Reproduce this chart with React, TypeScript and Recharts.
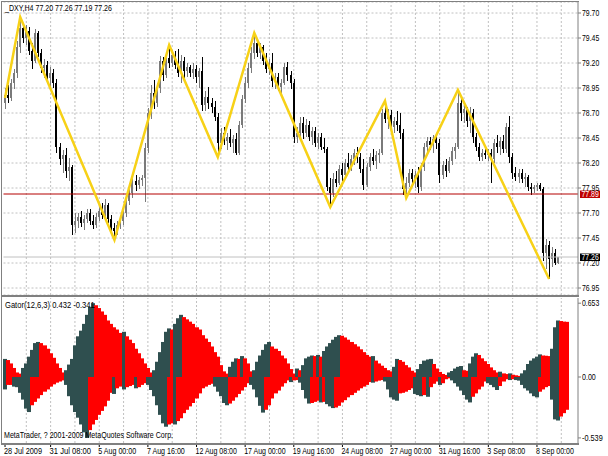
import React from "react";
import {
  ComposedChart,
  Bar,
  Line,
  XAxis,
  YAxis,
  CartesianGrid,
  ReferenceLine,
} from "recharts";

// H4 candles, bar 0 = 28 Jul 2009 20:00
const opens = [
  78.80, 78.88, 78.85, 79.00, 79.10, 79.36, 79.55, 79.45, 79.52, 79.32,
  79.22, 79.50, 79.30, 79.15, 79.18, 79.05, 79.10, 79.00, 78.36, 78.24,
  78.28, 78.12, 78.16, 77.58, 77.62, 77.66, 77.60, 77.64, 77.70, 77.62,
  77.58, 77.66, 77.72, 77.68, 77.78, 77.64, 77.55, 77.52, 77.58, 77.62,
  77.70, 77.82, 77.90, 78.02, 77.98, 78.03, 78.05, 78.35, 78.70, 78.90,
  78.80, 78.95, 79.22, 79.08, 79.25, 79.20, 79.28, 79.18, 79.10, 79.22,
  79.12, 79.16, 79.10, 79.14, 79.06, 79.12, 78.78, 78.86, 78.80, 78.76,
  78.66, 78.40, 78.50, 78.42, 78.46, 78.40, 78.44, 78.30, 78.58, 78.84,
  79.00, 79.15, 79.30, 79.40, 79.30, 79.36, 79.22, 79.14, 79.20, 79.02,
  79.06, 78.96, 79.00, 79.16, 79.08, 79.00, 78.46, 78.50, 78.60, 78.50,
  78.58, 78.46, 78.52, 78.40, 78.46, 78.36, 78.34, 77.96, 77.90, 78.04,
  78.00, 78.14, 78.08, 78.20, 78.16, 78.24, 78.30, 78.26, 78.14, 77.98,
  78.16, 78.26, 78.22, 78.28, 78.30, 78.70, 78.64, 78.68, 78.56, 78.62,
  78.58, 78.50, 77.94, 78.00, 78.10, 78.04, 78.08, 77.96, 78.16, 78.36,
  78.42, 78.38, 78.44, 78.40, 78.08, 78.18, 78.12, 78.22, 78.32, 78.36,
  78.80, 78.70, 78.74, 78.62, 78.70, 78.46, 78.36, 78.26, 78.30, 78.28,
  78.30, 78.24, 78.40, 78.36, 78.42, 78.34, 78.56, 78.26, 78.10, 78.06,
  78.10, 78.04, 78.06, 77.96, 77.94, 77.96, 77.98, 77.94, 77.30, 77.38,
  77.24, 77.30, 77.20,
];
const highs = [
  78.95, 78.98, 79.04, 79.14, 79.42, 79.66, 79.60, 79.58, 79.56, 79.40,
  79.54, 79.52, 79.34, 79.24, 79.22, 79.16, 79.14, 79.04, 78.40, 78.33,
  78.35, 78.25, 78.18, 77.70, 77.70, 77.72, 77.68, 77.74, 77.74, 77.68,
  77.70, 77.76, 77.80, 77.84, 77.80, 77.68, 77.60, 77.62, 77.66, 77.74,
  77.86, 77.95, 78.06, 78.08, 78.06, 78.08, 78.40, 78.75, 78.98, 79.03,
  79.00, 79.27, 79.26, 79.30, 79.38, 79.33, 79.32, 79.34, 79.28, 79.26,
  79.20, 79.18, 79.20, 79.18, 79.15, 79.26, 78.92, 78.96, 78.85, 78.82,
  78.70, 78.55, 78.56, 78.50, 78.54, 78.48, 78.50, 78.62, 78.88, 79.06,
  79.20, 79.36, 79.50, 79.42, 79.40, 79.38, 79.30, 79.24, 79.30, 79.10,
  79.10, 79.04, 79.20, 79.21, 79.12, 79.04, 78.56, 78.66, 78.66, 78.64,
  78.62, 78.56, 78.56, 78.50, 78.50, 78.45, 78.36, 78.05, 78.10, 78.12,
  78.18, 78.20, 78.24, 78.30, 78.28, 78.34, 78.36, 78.30, 78.24, 78.20,
  78.30, 78.34, 78.32, 78.34, 78.74, 78.82, 78.74, 78.73, 78.66, 78.72,
  78.70, 78.54, 78.06, 78.14, 78.14, 78.12, 78.16, 78.20, 78.40, 78.46,
  78.46, 78.48, 78.48, 78.44, 78.22, 78.24, 78.26, 78.36, 78.40, 78.93,
  78.84, 78.78, 78.76, 78.76, 78.74, 78.50, 78.40, 78.34, 78.36, 78.34,
  78.34, 78.44, 78.48, 78.46, 78.48, 78.60, 78.67, 78.30, 78.16, 78.14,
  78.14, 78.10, 78.08, 78.00, 77.98, 78.00, 78.00, 77.96, 77.44, 77.42,
  77.36, 77.34, 77.26,
];
const lows = [
  78.74, 78.80, 78.82, 78.94, 79.05, 79.30, 79.40, 79.38, 79.28, 79.14,
  79.20, 79.26, 79.10, 79.05, 79.00, 78.96, 78.95, 78.30, 78.18, 78.10,
  78.05, 78.02, 77.48, 77.50, 77.55, 77.56, 77.53, 77.60, 77.58, 77.54,
  77.55, 77.62, 77.64, 77.66, 77.60, 77.50, 77.43, 77.48, 77.54, 77.58,
  77.66, 77.78, 77.85, 77.92, 77.94, 77.97, 77.81, 78.30, 78.64, 78.74,
  78.76, 78.90, 79.02, 79.05, 79.15, 79.16, 79.14, 79.06, 79.00, 79.05,
  79.06, 79.06, 79.04, 79.00, 78.95, 78.72, 78.72, 78.74, 78.70, 78.62,
  78.26, 78.34, 78.38, 78.33, 78.36, 78.30, 78.28, 78.28, 78.55, 78.80,
  78.95, 79.10, 79.24, 79.26, 79.24, 79.18, 79.10, 79.08, 78.96, 78.94,
  78.92, 78.90, 78.98, 79.02, 78.94, 78.40, 78.40, 78.46, 78.44, 78.46,
  78.42, 78.38, 78.36, 78.34, 78.33, 78.30, 77.92, 77.76, 77.86, 77.96,
  77.98, 78.02, 78.04, 78.10, 78.12, 78.18, 78.20, 78.10, 77.93, 77.96,
  78.12, 78.18, 78.14, 78.20, 78.28, 78.60, 78.54, 78.50, 78.50, 78.52,
  78.44, 77.88, 77.85, 77.96, 77.98, 77.95, 77.90, 77.92, 78.12, 78.28,
  78.33, 78.30, 78.34, 78.00, 78.04, 78.06, 78.10, 78.18, 78.24, 78.34,
  78.62, 78.60, 78.56, 78.50, 78.40, 78.32, 78.22, 78.22, 78.24, 78.22,
  78.00, 78.20, 78.30, 78.28, 78.30, 78.30, 78.20, 78.04, 78.02, 78.00,
  78.00, 77.96, 77.92, 77.88, 77.90, 77.92, 77.92, 77.22, 77.14, 77.04,
  77.16, 77.18, 77.19,
];
const closes = [
  78.88, 78.85, 79.00, 79.10, 79.36, 79.55, 79.45, 79.52, 79.32, 79.22,
  79.50, 79.30, 79.15, 79.18, 79.05, 79.10, 79.00, 78.36, 78.24, 78.28,
  78.12, 78.16, 77.58, 77.62, 77.66, 77.60, 77.64, 77.70, 77.62, 77.58,
  77.66, 77.72, 77.68, 77.78, 77.64, 77.55, 77.52, 77.58, 77.62, 77.70,
  77.82, 77.90, 78.02, 77.98, 78.03, 78.05, 78.35, 78.70, 78.90, 78.80,
  78.95, 79.22, 79.08, 79.25, 79.20, 79.28, 79.18, 79.10, 79.22, 79.12,
  79.16, 79.10, 79.14, 79.06, 79.12, 78.78, 78.86, 78.80, 78.76, 78.66,
  78.40, 78.50, 78.42, 78.46, 78.40, 78.44, 78.30, 78.58, 78.84, 79.00,
  79.15, 79.30, 79.40, 79.30, 79.36, 79.22, 79.14, 79.20, 79.02, 79.06,
  78.96, 79.00, 79.16, 79.08, 79.00, 78.46, 78.50, 78.60, 78.50, 78.58,
  78.46, 78.52, 78.40, 78.46, 78.36, 78.34, 77.96, 77.90, 78.04, 78.00,
  78.14, 78.08, 78.20, 78.16, 78.24, 78.30, 78.26, 78.14, 77.98, 78.16,
  78.26, 78.22, 78.28, 78.30, 78.70, 78.64, 78.68, 78.56, 78.62, 78.58,
  78.50, 77.94, 78.00, 78.10, 78.04, 78.08, 77.96, 78.16, 78.36, 78.42,
  78.38, 78.44, 78.40, 78.08, 78.18, 78.12, 78.22, 78.32, 78.36, 78.80,
  78.70, 78.74, 78.62, 78.70, 78.46, 78.36, 78.26, 78.30, 78.28, 78.30,
  78.24, 78.40, 78.36, 78.42, 78.34, 78.56, 78.26, 78.10, 78.06, 78.10,
  78.04, 78.06, 77.96, 77.94, 77.96, 77.98, 77.94, 77.30, 77.38, 77.24,
  77.30, 77.20, 77.26,
];

// ZigZag pivots (bar index, price)
const zigzagBars = [0, 5, 36, 54, 70, 82, 107, 125, 132, 149, 179];
const zigzagPrices = [78.85, 79.66, 77.43, 79.38, 78.26, 79.5, 77.76, 78.82, 77.85, 78.93, 77.04];

// Gator oscillator, upper and lower histograms
const gatorUp = [
  0.16, 0.15, 0.12, 0.08, 0.04, 0.03, 0.08, 0.12, 0.18, 0.24,
  0.30, 0.31, 0.30, 0.28, 0.25, 0.21, 0.17, 0.12, 0.08, 0.04,
  0.06, 0.11, 0.16, 0.28, 0.36, 0.41, 0.47, 0.55, 0.62, 0.653,
  0.635, 0.61, 0.58, 0.55, 0.50, 0.47, 0.44, 0.42, 0.39, 0.40,
  0.36, 0.33, 0.30, 0.25, 0.21, 0.165, 0.12, 0.08, 0.04, 0.06,
  0.135, 0.22, 0.31, 0.40, 0.43, 0.42, 0.47, 0.52, 0.55, 0.53,
  0.51, 0.49, 0.47, 0.44, 0.42, 0.37, 0.34, 0.31, 0.27, 0.22,
  0.18, 0.105, 0.05, 0.03, 0.09, 0.135, 0.165, 0.16, 0.185, 0.165,
  0.12, 0.05, 0.06, 0.135, 0.19, 0.24, 0.29, 0.31, 0.27, 0.25,
  0.23, 0.19, 0.165, 0.12, 0.07, 0.03, 0.075, 0.06, 0.105, 0.165,
  0.18, 0.19, 0.185, 0.195, 0.18, 0.23, 0.27, 0.30, 0.33, 0.355,
  0.37, 0.365, 0.35, 0.33, 0.31, 0.29, 0.27, 0.245, 0.22, 0.195,
  0.18, 0.185, 0.145, 0.12, 0.10, 0.08, 0.06, 0.05, 0.09, 0.16,
  0.15, 0.135, 0.105, 0.085, 0.055, 0.04, 0.07, 0.115, 0.145, 0.155,
  0.16, 0.115, 0.075, 0.045, 0.027, 0.018, 0.04, 0.053, 0.075, 0.09,
  0.097, 0.06, 0.055, 0.12, 0.18, 0.21, 0.195, 0.165, 0.14, 0.115,
  0.085, 0.06, 0.04, 0.047, 0.032, 0.026, 0.032, 0.02, 0.015, 0.01,
  0.032, 0.06, 0.115, 0.145, 0.165, 0.18, 0.20, 0.19, 0.188, 0.185,
  0.25, 0.44, 0.50, 0.495, 0.49, 0.488,
];
const gatorDown = [
  -0.11, -0.07, -0.07, -0.085, -0.09, -0.14, -0.20, -0.28, -0.31, -0.25,
  -0.22, -0.19, -0.16, -0.13, -0.11, -0.085, -0.065, -0.05, -0.04, -0.03,
  -0.07, -0.17, -0.25, -0.31, -0.36, -0.42, -0.49, -0.539, -0.47, -0.42,
  -0.38, -0.335, -0.30, -0.26, -0.21, -0.14, -0.15, -0.10, -0.085, -0.11,
  -0.09, -0.08, -0.07, -0.10, -0.09, -0.07, -0.055, -0.07, -0.115, -0.17,
  -0.25, -0.335, -0.41, -0.44, -0.42, -0.41, -0.42, -0.39, -0.365, -0.32,
  -0.29, -0.26, -0.23, -0.19, -0.145, -0.10, -0.085, -0.07, -0.06, -0.085,
  -0.13, -0.17, -0.23, -0.25, -0.235, -0.21, -0.18, -0.15, -0.12, -0.09,
  -0.055, -0.07, -0.11, -0.18, -0.255, -0.315, -0.29, -0.25, -0.19, -0.145,
  -0.12, -0.085, -0.055, -0.03, -0.045, -0.03, -0.027, -0.05, -0.115, -0.19,
  -0.235, -0.23, -0.22, -0.21, -0.225, -0.22, -0.24, -0.26, -0.275, -0.27,
  -0.255, -0.225, -0.205, -0.18, -0.16, -0.14, -0.12, -0.10, -0.085, -0.07,
  -0.045, -0.05, -0.04, -0.032, -0.027, -0.04, -0.11, -0.18, -0.20, -0.21,
  -0.145, -0.14, -0.13, -0.115, -0.10, -0.15, -0.16, -0.17, -0.16, -0.175,
  -0.09, -0.06, -0.04, -0.07, -0.055, -0.02, -0.012, -0.03, -0.055, -0.085,
  -0.12, -0.16, -0.20, -0.225, -0.175, -0.145, -0.11, -0.085, -0.04, -0.055,
  -0.07, -0.09, -0.115, -0.08, -0.04, -0.02, -0.027, -0.02, -0.027, -0.032,
  -0.07, -0.10, -0.12, -0.145, -0.17, -0.18, -0.13, -0.11, -0.09, -0.08,
  -0.20, -0.375, -0.385, -0.35, -0.32, -0.29,
];

const priceTicks = [76.95, 77.2, 77.45, 77.7, 77.95, 78.2, 78.45, 78.7, 78.95, 79.2, 79.45, 79.7];
const gatorTicks = [-0.539, 0, 0.653];
const gatorTickLabels = ["-0.539", "0.00", "0.653"];
const timeLabelBars = [0, 15, 31, 47, 63, 79, 95, 111, 127, 143, 159, 175];
const timeLabels = [
  "28 Jul 2009", "31 Jul 08:00", "5 Aug 00:00", "7 Aug 16:00", "12 Aug 08:00", "17 Aug 00:00",
  "19 Aug 16:00", "24 Aug 08:00", "27 Aug 00:00", "31 Aug 16:00", "3 Sep 08:00", "8 Sep 00:00",
];
const gridBars = [7, 15, 23, 31, 39, 47, 55, 63, 71, 79, 87, 95, 103, 111, 119, 127, 135, 143, 151, 159, 167, 175, 183];
const barSlots = 189; // includes the empty shift area on the right
const levelLine = 77.89;
const lastPrice = 77.26;

const PLOT_LEFT = 3.5;
const FONT = "'Liberation Sans', Arial, sans-serif";
const CHAR_W = 3.45; // MT4's small terminal font is narrow
const DARK = "#2f4f4f";
const RED = "#ff0000";
const GRID = "#c0c0c0";
const FRAME = "#808080";

function trendColors(vals: number[]) {
  const out: string[] = [];
  vals.forEach((v, i) => {
    const a = Math.abs(v);
    if (i === 0) out.push(DARK);
    else {
      const p = Math.abs(vals[i - 1]);
      out.push(a > p ? DARK : a < p ? RED : out[i - 1]);
    }
  });
  return out;
}

const upColors = trendColors(gatorUp);
const dnColors = trendColors(gatorDown);

const rows = Array.from({ length: barSlots }, (_, i) => {
  const has = i < closes.length;
  const z = zigzagBars.indexOf(i);
  return {
    i,
    range: has ? [lows[i], highs[i]] : null,
    o: has ? opens[i] : null,
    h: has ? highs[i] : null,
    l: has ? lows[i] : null,
    c: has ? closes[i] : null,
    zz: z >= 0 ? zigzagPrices[z] : null,
    up: i < gatorUp.length ? gatorUp[i] : null,
    dn: i < gatorDown.length ? gatorDown[i] : null,
    upColor: upColors[i],
    dnColor: dnColors[i],
  };
});

function NarrowText({ x, y, text, fill = "#000", anchorY = 0 }: any) {
  return (
    <text
      x={x}
      y={y}
      dy={anchorY}
      fontSize={9}
      fontFamily={FONT}
      fill={fill}
      textLength={text.length * CHAR_W}
      lengthAdjust="spacingAndGlyphs"
    >
      {text}
    </text>
  );
}

function Candle(props: any) {
  const { x, y, width, height, payload } = props;
  if (!payload || payload.c == null) return null;
  const top = Math.min(y, y + height);
  const span = Math.abs(height);
  const k = span / (payload.h - payload.l);
  const cx = Math.round(x + width / 2);
  const bodyTop = top + (payload.h - Math.max(payload.o, payload.c)) * k;
  const bodyBot = top + (payload.h - Math.min(payload.o, payload.c)) * k;
  const color = payload.c >= payload.o ? "#7a7a7a" : "#000000";
  return (
    <g shapeRendering="crispEdges">
      <rect x={cx} y={top} width={1} height={Math.max(span, 1)} fill={color} />
      <rect x={cx - 1} y={bodyTop} width={2} height={Math.max(bodyBot - bodyTop, 1)} fill={color} />
    </g>
  );
}

// histogram columns touch each other, as in the terminal
const gatorShape = (key: "upColor" | "dnColor") => (props: any) => {
  const { x, y, width, height, payload } = props;
  if (!payload || !height) return null;
  const top = Math.min(y, y + height);
  const cx = x + width / 2;
  const x0 = Math.floor(cx - 1.5);
  return <rect x={x0} y={top} width={4} height={Math.abs(height)} fill={payload[key]} />;
};

const priceBox = (text: string, bg: string) => (props: any) => {
  const vb = props.viewBox;
  if (!vb) return null;
  const x = vb.x + vb.width + 2;
  return (
    <g>
      <rect x={x} y={vb.y - 3.5} width={20} height={7.5} fill={bg} />
      <NarrowText x={x + 1.5} y={vb.y + 3} text={text} fill="#ffffff" />
    </g>
  );
};

function AxisTick(props: any) {
  const { x, y, payload, labels, values } = props;
  const text = labels ? labels[values.indexOf(payload.value)] : Number(payload.value).toFixed(2);
  return <NarrowText x={x} y={y} anchorY="0.35em" text={text} />;
}

function TimeTick(props: any) {
  const { x, y, payload } = props;
  const idx = timeLabelBars.indexOf(payload.value);
  if (idx < 0) return null;
  return (
    <g>
      <line x1={x} x2={x} y1={y + 1} y2={y + 4} stroke="#000" />
      <NarrowText x={x - 1} y={y + 11} text={timeLabels[idx]} />
    </g>
  );
}

function Caption({ left, top, text }: any) {
  return (
    <svg style={{ position: "absolute", left, top, overflow: "visible" }} width={text.length * CHAR_W + 8} height={11}>
      <NarrowText x={0} y={8} text={text} />
    </svg>
  );
}

export default function App() {
  return (
    <div style={{ position: "absolute", left: 0, top: 0, width: 608, height: 456, background: "#fff", overflow: "hidden" }}>
      <div style={{ position: "absolute", left: 0, top: 0 }}>
        <ComposedChart width={608} height={296} data={rows} margin={{ top: 2, right: 0, bottom: 1, left: PLOT_LEFT }}>
          <CartesianGrid vertical={false} stroke={GRID} strokeDasharray="2 2" />
          {gridBars.map((b) => (
            <ReferenceLine key={b} x={b} stroke={GRID} strokeDasharray="2 2" zIndex={-50} />
          ))}
          <XAxis dataKey="i" type="category" hide />
          <YAxis
            orientation="right"
            width={30}
            domain={[76.88, 79.81]}
            allowDataOverflow
            ticks={priceTicks}
            interval={0}
            tick={<AxisTick />}
            tickSize={3}
            tickMargin={1}
            axisLine={{ stroke: FRAME }}
            tickLine={{ stroke: FRAME }}
          />
          <ReferenceLine y={lastPrice} stroke="#c0c0c0" label={priceBox("77.26", "#000000")} />
          <ReferenceLine y={levelLine} stroke="#b40000" label={priceBox("77.89", "#c00000")} />
          <Bar dataKey="range" shape={Candle} isAnimationActive={false} />
          <Line
            dataKey="zz"
            type="linear"
            connectNulls
            dot={false}
            stroke="#f7d117"
            strokeWidth={2.5}
            isAnimationActive={false}
          />
        </ComposedChart>
      </div>
      <div style={{ position: "absolute", left: 0, top: 296 }}>
        <ComposedChart
          width={608}
          height={160}
          data={rows}
          stackOffset="sign"
          barCategoryGap="0%"
          barGap={0}
          margin={{ top: 2, right: 0, bottom: 0, left: PLOT_LEFT }}
        >
          {gridBars.map((b) => (
            <ReferenceLine key={b} x={b} stroke={GRID} strokeDasharray="2 2" zIndex={-50} />
          ))}
          <XAxis
            dataKey="i"
            type="category"
            height={13}
            ticks={timeLabelBars}
            interval={0}
            tick={<TimeTick />}
            tickSize={0}
            tickMargin={0}
            axisLine={false}
            tickLine={false}
          />
          <YAxis
            orientation="right"
            width={30}
            domain={[-0.584, 0.699]}
            allowDataOverflow
            ticks={gatorTicks}
            interval={0}
            tick={<AxisTick labels={gatorTickLabels} values={gatorTicks} />}
            tickSize={3}
            tickMargin={1}
            axisLine={{ stroke: FRAME }}
            tickLine={{ stroke: FRAME }}
          />
          <Bar dataKey="up" stackId="g" shape={gatorShape("upColor")} isAnimationActive={false} />
          <Bar dataKey="dn" stackId="g" shape={gatorShape("dnColor")} isAnimationActive={false} />
        </ComposedChart>
      </div>
      {/* panel frame */}
      <div style={{ position: "absolute", left: 1, top: 1, width: 1, height: 444, background: FRAME }} />
      <div style={{ position: "absolute", left: 1, top: 1, width: 578, height: 1, background: FRAME }} />
      <div style={{ position: "absolute", left: 1, top: 295, width: 578, height: 2, background: FRAME }} />
      <div style={{ position: "absolute", left: 1, top: 443, width: 578, height: 2, background: FRAME }} />
      <Caption left={5} top={3} text="_DXY,H4 77.20 77.26 77.19 77.26" />
      <Caption left={5} top={300} text="Gator(12,6,3) 0.432 -0.341" />
      <Caption left={4} top={430} text="MetaTrader, ? 2001-2009 MetaQuotes Software Corp." />
    </div>
  );
}
